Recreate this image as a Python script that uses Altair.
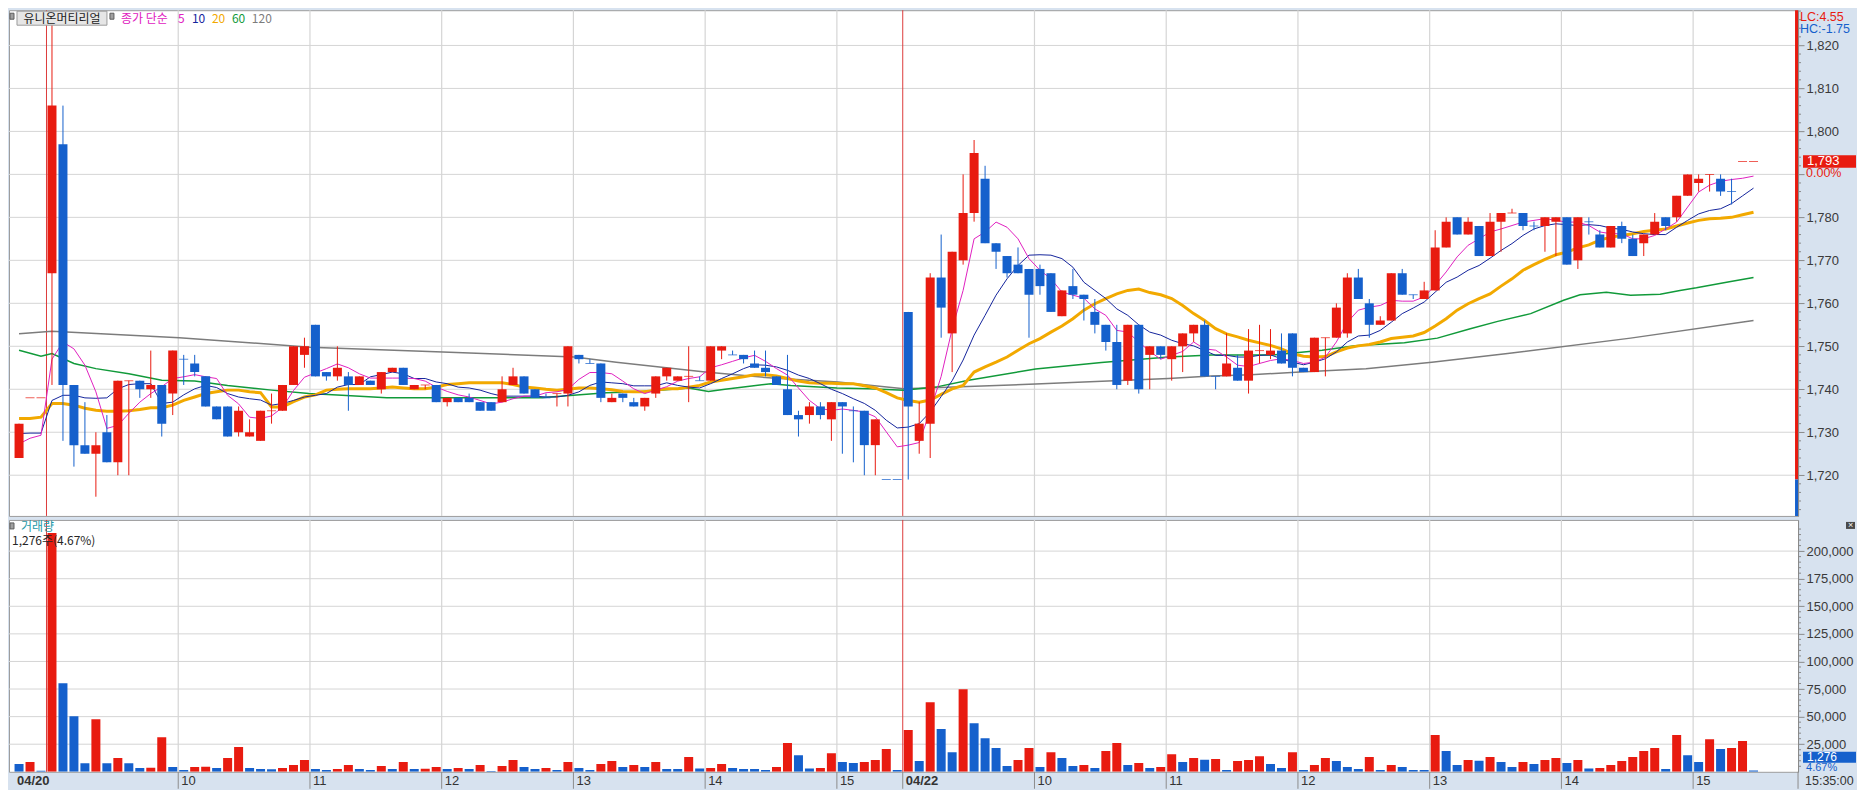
import altair as alt
import pandas as pd

# ---------------- data ----------------
SLOTS = list(range(-3, 156))  # 5-minute slot index (0 = 04/20 09:00, 78 = 04/22 09:00)

OPEN = [1724, 1738, 1738, 1767, 1797, 1741, 1727, 1725, 1730, 1723,
        1742, 1742, 1740, 1741, 1739, 1747, 1746, 1743, 1736, 1736,
        1730, 1729, 1728, 1735, 1735, 1741, 1748, 1755, 1744, 1743,
        1743, 1741, 1742, 1740, 1744, 1745, 1740, 1741, 1741, 1737,
        1738, 1738, 1737, 1737, 1737, 1741, 1743, 1740, 1738, 1739,
        1739, 1748, 1746, 1746, 1737, 1739, 1737, 1736, 1739, 1743,
        1742, 1743, 1742, 1742, 1749, 1748, 1748, 1746, 1745, 1743,
        1740, 1734, 1734, 1736, 1733, 1737, 1735, 1735, 1727, 1719,
        1719, 1758, 1728, 1732, 1766, 1753, 1770, 1781, 1789, 1774,
        1771, 1769, 1768, 1768, 1767, 1757, 1764, 1762, 1758, 1755,
        1751, 1742, 1755, 1748, 1750, 1747, 1750, 1753, 1755, 1743,
        1743, 1745, 1742, 1749, 1748, 1749, 1753, 1745, 1744, 1752,
        1752, 1753, 1766, 1760, 1755, 1756, 1767, 1762, 1761, 1763,
        1773, 1780, 1776, 1778, 1771, 1779, 1781, 1781, 1778, 1778,
        1779, 1780, 1770, 1779, 1776, 1773, 1778, 1775, 1774, 1776,
        1780, 1780, 1785, 1788, 1790, 1789, 1786, 1793, 1793]
HIGH = [1732, 1738, 1738, 1825, 1806, 1741, 1737, 1730, 1734, 1742,
        1742, 1742, 1749, 1741, 1749, 1748, 1748, 1743, 1736, 1736,
        1736, 1733, 1735, 1739, 1741, 1750, 1752, 1755, 1744, 1750,
        1744, 1743, 1742, 1744, 1745, 1745, 1741, 1741, 1741, 1738,
        1738, 1739, 1737, 1737, 1743, 1745, 1743, 1740, 1739, 1739,
        1750, 1748, 1747, 1746, 1739, 1739, 1738, 1738, 1743, 1745,
        1743, 1750, 1743, 1750, 1750, 1749, 1748, 1749, 1749, 1743,
        1748, 1735, 1737, 1737, 1737, 1737, 1736, 1735, 1733, 1719,
        1719, 1758, 1737, 1767, 1776, 1772, 1790, 1798, 1792, 1774,
        1771, 1773, 1768, 1769, 1767, 1763, 1768, 1762, 1761, 1755,
        1755, 1755, 1755, 1750, 1750, 1750, 1753, 1755, 1756, 1743,
        1753, 1748, 1754, 1755, 1754, 1753, 1753, 1745, 1752, 1752,
        1760, 1767, 1768, 1761, 1757, 1767, 1768, 1762, 1765, 1777,
        1780, 1780, 1780, 1778, 1781, 1781, 1782, 1781, 1779, 1780,
        1780, 1780, 1780, 1780, 1777, 1778, 1779, 1776, 1776, 1781,
        1780, 1785, 1790, 1790, 1790, 1790, 1789, 1793, 1793]
LOW = [1724, 1738, 1738, 1741, 1728, 1722, 1725, 1715, 1723, 1720,
       1720, 1738, 1738, 1729, 1734, 1741, 1743, 1736, 1733, 1729,
       1729, 1729, 1728, 1732, 1735, 1741, 1745, 1743, 1742, 1742,
       1735, 1741, 1741, 1739, 1744, 1741, 1740, 1740, 1737, 1736,
       1737, 1737, 1735, 1735, 1737, 1741, 1739, 1738, 1738, 1736,
       1736, 1746, 1746, 1737, 1737, 1737, 1736, 1735, 1738, 1742,
       1742, 1737, 1742, 1742, 1747, 1748, 1746, 1745, 1743, 1741,
       1734, 1729, 1732, 1733, 1728, 1725, 1723, 1720, 1720, 1719,
       1719, 1719, 1725, 1724, 1752, 1744, 1769, 1779, 1774, 1768,
       1766, 1767, 1752, 1762, 1758, 1757, 1761, 1756, 1753, 1749,
       1740, 1741, 1739, 1740, 1747, 1742, 1744, 1751, 1743, 1740,
       1743, 1742, 1739, 1746, 1747, 1746, 1743, 1744, 1744, 1743,
       1752, 1752, 1761, 1752, 1755, 1756, 1762, 1761, 1761, 1763,
       1773, 1776, 1776, 1771, 1771, 1772, 1781, 1777, 1777, 1772,
       1771, 1769, 1768, 1776, 1773, 1773, 1774, 1771, 1771, 1776,
       1777, 1779, 1785, 1786, 1786, 1785, 1783, 1793, 1793]
CLOSE = [1732, 1738, 1738, 1806, 1741, 1727, 1725, 1727, 1723, 1742,
         1742, 1740, 1741, 1732, 1749, 1747, 1744, 1736, 1733, 1729,
         1735, 1730, 1735, 1735, 1741, 1750, 1750, 1743, 1743, 1745,
         1741, 1743, 1741, 1744, 1745, 1741, 1741, 1741, 1737, 1738,
         1737, 1737, 1735, 1735, 1740, 1743, 1739, 1738, 1738, 1739,
         1750, 1747, 1746, 1738, 1738, 1738, 1736, 1738, 1743, 1745,
         1743, 1743, 1742, 1750, 1750, 1748, 1747, 1745, 1744, 1741,
         1734, 1733, 1736, 1734, 1737, 1736, 1735, 1727, 1733, 1719,
         1719, 1736, 1732, 1766, 1759, 1772, 1781, 1795, 1774, 1772,
         1767, 1767, 1762, 1764, 1758, 1763, 1762, 1761, 1755, 1751,
         1741, 1755, 1740, 1750, 1748, 1750, 1753, 1755, 1743, 1743,
         1746, 1742, 1749, 1749, 1749, 1746, 1745, 1744, 1752, 1752,
         1759, 1766, 1761, 1755, 1756, 1767, 1762, 1762, 1763, 1773,
         1779, 1776, 1779, 1771, 1779, 1781, 1781, 1778, 1778, 1780,
         1780, 1769, 1780, 1779, 1773, 1778, 1775, 1771, 1776, 1779,
         1778, 1785, 1790, 1789, 1790, 1786, 1786, 1793, 1793]
CANDLE_DIR = ("U U U U D D D U D U "
              "U D U D U D D D D D "
              "U U U U U U U D D U "
              "D U D U U D U U D U "
              "D D D D U U D D D U "
              "U D D D U D D U U U "
              "U U D U U D D D D D "
              "D D U D U D D D U D "
              "D D U U D U U U D D "
              "D D D D D U D D D D "
              "D U D U D U U U D D "
              "U D U U U D D D U U "
              "U U D D U U D D U U "
              "U D U D U U U D D U "
              "U D U D D U D D U U "
              "D U U U U D D U U").split()

VOLUME = [6980, 8790, 900, 216500, 80300, 50400, 7860, 47700, 7860, 12400,
          7860, 3350, 3700, 31400, 4260, 1540, 4260, 4500, 3350, 12400,
          22400, 3350, 2450, 2200, 3350, 6070, 10600, 2450, 1540, 2450,
          6070, 2450, 1540, 5160, 2450, 8790, 2450, 2700, 4260, 2450,
          3350, 2450, 6070, 630, 5160, 10600, 4260, 2450, 3350, 1540,
          8790, 3350, 1540, 6980, 9690, 4260, 6070, 4260, 8790, 2450,
          2450, 13300, 3000, 3350, 6980, 3350, 2450, 2450, 1540, 4260,
          26000, 15100, 3000, 3350, 16900, 8790, 7880, 8790, 10600, 20600,
          1540, 37800, 9690, 63100, 38700, 17800, 74900, 44100, 30500, 21500,
          5160, 10600, 21500, 4260, 17800, 12400, 5160, 6070, 3350, 18800,
          26000, 6070, 7880, 3350, 4260, 16000, 8790, 12400, 11000, 11500,
          1540, 9690, 10600, 14200, 6980, 3350, 17800, 1540, 6070, 12400,
          9690, 4260, 2450, 13300, 1540, 6070, 4260, 1540, 1540, 33300,
          18800, 6070, 10600, 10000, 13300, 8790, 4260, 8790, 6980, 10600,
          12400, 7880, 10600, 3000, 3350, 6070, 9690, 13300, 18800, 21500,
          2450, 33300, 15100, 8790, 29600, 20600, 21500, 27800, 1276]
VOLUME_DIR = ("D U D U D D D U D U "
              "D D U U D D U U D U "
              "U D D D U U U D D U "
              "U D D U D U D U U D "
              "U D U D U U D D U D "
              "U D D U U D U D U D "
              "D U D U U D D D D U "
              "U D D U U D D U U U "
              "D U D U D D U D D D "
              "D U U D U D D U D U "
              "U D U D U U D U D U "
              "D U U U D D U D U U "
              "D D D U D U D D D U "
              "D D U D U D D U D U "
              "U D U D U U U U U U "
              "D U D D U D U U D").split()

MA5 = [1727.3, 1728.6, 1729.3, 1747.0, 1751.0, 1749.4, 1745.6, 1739.4, 1730.9, 1731.6,
       1734.4, 1737.0, 1739.0, 1740.6, 1742.5, 1742.9, 1743.4, 1742.9, 1742.5, 1738.6,
       1736.6, 1733.5, 1733.2, 1733.8, 1735.8, 1739.7, 1742.8, 1743.8, 1744.8, 1745.9,
       1745.0, 1743.6, 1742.6, 1742.6, 1742.6, 1742.6, 1742.5, 1741.9, 1740.5, 1739.5,
       1738.7, 1738.2, 1737.4, 1736.6, 1737.0, 1737.8, 1738.4, 1738.4, 1739.2, 1739.4,
       1740.0, 1742.3, 1743.9, 1743.9, 1743.6, 1741.9, 1740.1, 1739.0, 1739.8, 1740.6,
       1741.9, 1742.5, 1742.9, 1745.0, 1745.7, 1746.5, 1747.3, 1747.9, 1746.5, 1744.8,
       1743.3, 1740.3, 1737.4, 1735.5, 1735.1, 1735.4, 1735.1, 1734.7, 1733.6, 1730.1,
       1726.6, 1727.0, 1727.6, 1735.0, 1743.0, 1754.0, 1763.0, 1775.0, 1776.6, 1778.9,
       1777.7, 1775.0, 1770.4, 1767.7, 1765.7, 1762.6, 1761.9, 1761.2, 1758.7, 1757.2,
       1753.7, 1753.3, 1751.0, 1748.8, 1747.0, 1747.9, 1748.8, 1751.0, 1749.4, 1749.1,
       1747.5, 1745.6, 1745.3, 1746.0, 1746.7, 1747.1, 1746.7, 1746.0, 1746.3, 1747.5,
       1751.0, 1755.6, 1758.4, 1759.1, 1759.5, 1760.7, 1760.5, 1760.5, 1761.5, 1764.2,
       1767.3, 1770.8, 1773.5, 1775.0, 1776.6, 1777.3, 1778.1, 1778.9, 1779.3, 1779.7,
       1779.3, 1778.9, 1778.9, 1778.1, 1776.6, 1776.2, 1776.2, 1775.0, 1775.0, 1775.8,
       1777.3, 1778.9, 1782.4, 1785.9, 1787.5, 1788.4, 1788.8, 1789.1, 1789.6]
MA10 = [1729.7, 1729.8, 1729.8, 1737.4, 1738.6, 1738.6, 1738.0, 1737.9, 1738.0, 1740.1,
        1741.1, 1741.3, 1741.3, 1736.7, 1737.0, 1738.7, 1740.1, 1740.9, 1740.4, 1739.0,
        1738.2, 1737.8, 1737.5, 1736.3, 1736.7, 1737.4, 1738.2, 1738.6, 1739.0, 1740.5,
        1741.1, 1741.1, 1742.9, 1743.4, 1744.0, 1743.6, 1742.5, 1742.5, 1741.7, 1741.3,
        1740.5, 1740.3, 1739.8, 1739.0, 1738.4, 1738.4, 1738.4, 1738.4, 1738.2, 1738.2,
        1738.6, 1739.4, 1740.9, 1741.7, 1741.5, 1741.3, 1740.8, 1740.8, 1740.8, 1741.5,
        1740.9, 1740.5, 1740.3, 1741.3, 1742.5, 1743.6, 1744.8, 1745.7, 1745.6, 1745.2,
        1744.4, 1743.3, 1742.5, 1741.3, 1740.0, 1739.0, 1737.8, 1736.7, 1735.1, 1732.8,
        1731.0, 1731.2, 1732.0, 1734.7, 1738.3, 1742.0, 1746.8, 1752.6, 1757.2, 1761.9,
        1765.7, 1768.8, 1771.2, 1771.3, 1771.2, 1770.4, 1768.4, 1764.9, 1763.0, 1761.1,
        1758.7, 1757.2, 1755.0, 1753.3, 1752.6, 1751.4, 1750.6, 1750.1, 1749.0, 1747.9,
        1747.9, 1747.5, 1747.5, 1747.9, 1748.0, 1747.1, 1746.3, 1745.7, 1746.3, 1747.1,
        1748.7, 1751.0, 1752.4, 1752.6, 1753.7, 1755.6, 1757.6, 1758.9, 1760.3, 1762.6,
        1764.9, 1766.1, 1767.7, 1768.8, 1770.5, 1772.3, 1773.9, 1775.8, 1777.3, 1778.1,
        1778.5, 1778.3, 1778.1, 1778.3, 1778.1, 1777.5, 1777.2, 1776.6, 1776.2, 1776.0,
        1776.0, 1777.7, 1779.3, 1780.8, 1781.6, 1782.0, 1783.2, 1785.0, 1786.8]
MA20 = [1733.2, 1733.2, 1733.5, 1736.7, 1736.7, 1736.3, 1735.6, 1735.1, 1734.9, 1734.9,
        1735.0, 1735.3, 1735.7, 1735.7, 1736.3, 1737.4, 1738.2, 1739.0, 1739.4, 1739.8,
        1739.8, 1739.4, 1739.2, 1735.9, 1735.9, 1737.1, 1738.2, 1738.7, 1739.8, 1740.0,
        1740.1, 1740.1, 1740.1, 1740.3, 1740.5, 1740.3, 1740.1, 1740.1, 1740.5, 1741.1,
        1741.3, 1741.5, 1741.5, 1741.5, 1741.5, 1741.1, 1740.5, 1740.3, 1740.0, 1739.8,
        1740.0, 1740.3, 1740.3, 1740.1, 1739.9, 1739.5, 1739.4, 1739.4, 1739.8, 1740.1,
        1740.1, 1740.5, 1740.9, 1741.7, 1742.1, 1742.5, 1742.9, 1743.4, 1743.4, 1743.1,
        1742.5, 1741.9, 1741.5, 1741.4, 1741.4, 1741.3, 1741.3, 1740.8, 1740.3, 1739.2,
        1738.0, 1737.4, 1737.0, 1737.5, 1738.8, 1740.1, 1740.9, 1744.0, 1745.2, 1746.3,
        1747.5, 1749.1, 1750.6, 1751.8, 1753.3, 1754.7, 1756.4, 1758.4, 1759.9, 1761.1,
        1762.2, 1763.0, 1763.3, 1762.5, 1762.0, 1761.1, 1759.5, 1757.6, 1756.0, 1754.1,
        1752.9, 1752.2, 1751.4, 1750.8, 1750.2, 1749.4, 1748.3, 1747.7, 1747.5, 1747.6,
        1748.7, 1749.6, 1750.1, 1750.4, 1751.0, 1751.8, 1752.1, 1752.4, 1753.2, 1754.7,
        1756.4, 1758.4, 1759.9, 1761.1, 1762.2, 1764.0, 1765.7, 1767.7, 1769.0, 1770.2,
        1771.3, 1771.9, 1772.9, 1773.6, 1774.7, 1775.4, 1775.8, 1776.2, 1776.7, 1777.0,
        1777.3, 1778.0, 1778.7, 1779.3, 1779.7, 1779.8, 1780.0, 1780.6, 1781.2]
MA60_SLOT = [-3, -1, 0, 2, 4, 7, 10, 13, 16, 20, 23.4, 26.4, 30.5, 35.5, 41.5, 44.5, 47.5,
             50.5, 53.5, 56.5, 58, 59.8, 61.3, 63, 65.5, 67.3, 71.5, 74.5, 77.6, 80.5, 83.5,
             89.6, 95.6, 101.7, 105.6, 111.2, 115.7, 118.7, 123.2, 126.2, 129.2, 131.7,
             134.7, 137.7, 139.2, 141.6, 143.8, 146.5, 148.3, 149.8, 152.8, 155]
MA60 = [1749.1, 1747.7, 1748.3, 1746.0, 1744.8, 1743.6, 1742.1, 1741.9, 1740.9, 1739.8,
        1739.0, 1738.6, 1738.0, 1738.0, 1738.0, 1738.0, 1738.6, 1739.2, 1739.4, 1740.0,
        1740.3, 1739.5, 1740.0, 1740.5, 1741.3, 1740.9, 1740.3, 1740.1, 1739.8, 1740.5,
        1742.1, 1744.7, 1746.2, 1747.5, 1748.0, 1748.0, 1749.1, 1750.1, 1750.8, 1751.9,
        1754.1, 1755.8, 1757.6, 1760.7, 1762.0, 1762.6, 1761.9, 1762.1, 1763.0, 1763.6,
        1765.0, 1766.0]
MA120_SLOT = [-3, 0, 11.6, 23.5, 35.6, 47.6, 51.4, 59.5, 65.6, 71.6, 77.6, 89.6, 101.7,
              105.6, 109.2, 113.7, 119.7, 125.7, 132.6, 143.8, 155]
MA120 = [1752.9, 1753.5, 1752.0, 1749.8, 1748.7, 1747.5, 1746.3, 1744.0, 1742.6, 1741.7,
         1740.1, 1741.2, 1742.5, 1743.1, 1743.4, 1744.0, 1744.8, 1746.3, 1748.3, 1751.9,
         1756.0]

PRICE_TICKS = [1720, 1730, 1740, 1750, 1760, 1770, 1780, 1790, 1800, 1810, 1820]
HIDDEN_PRICE_LABEL = 1790  # covered by the change-rate text in the reference
VOLUME_TICKS = [25000, 50000, 75000, 100000, 125000, 150000, 175000, 200000]
HOUR_SLOTS = [11.5, 23.5, 35.5, 47.5, 59.5, 71.5, 89.5, 101.5, 113.5, 125.5, 137.5, 149.5]
HOUR_LABELS = ["10", "11", "12", "13", "14", "15", "10", "11", "12", "13", "14", "15"]
DAY_SLOTS = [-0.5, 77.5]
DAY_LABEL_SLOTS = [-3.46, 77.5]
DAY_LABELS = ["04/20", "04/22"]
STOCK_NAME = "유니온머티리얼"
MA_TITLE = "종가 단순"
MA_NAMES = ["5", "10", "20", "60", "120"]
CUR_PRICE = 1793
CUR_PRICE_TEXT = "1,793"
CUR_CHANGE_TEXT = "0.00%"
LC_TEXT = "LC:4.55"
HC_TEXT = "HC:-1.75"
LC_SPLIT = 1719
VOL_TITLE = "거래량"
VOL_INFO = "1,276주(4.67%)"
CUR_VOL_TEXT = "1,276"
CUR_VOL_PCT = "4.67%"
TIME_TEXT = "15:35:00"

# ---------------- style ----------------
RED = "#e81b10"
BLUE = "#1560cc"
C_MA5, C_MA10, C_MA20, C_MA60, C_MA120 = "#e020c0", "#14249c", "#f2a900", "#119a3a", "#7c7c7c"
GRID = "#d5d5d5"
BG = "#d7e2ef"
NUM_FONT = "Liberation Sans"
KR_FONT = "Noto Sans CJK KR"

W, PH, VH = 1790, 506, 252
XS = alt.Scale(domain=[-3.46, 158.6], nice=False, zero=False)
PS = alt.Scale(domain=[1710.526, 1828.2], nice=False, zero=False)
VS = alt.Scale(domain=[0, 228260], nice=False, zero=False)
COL = alt.Color("dir:N", scale=alt.Scale(domain=["U", "D"], range=[RED, BLUE]), legend=None)

AXIS_STYLE = dict(orient="right", format=",d", grid=False, domain=True, domainColor="#8a8a8a",
                  ticks=True, tickColor="#8a8a8a", tickSize=6, labelFont=NUM_FONT,
                  labelFontSize=13, labelColor="#3a3a3a", labelPadding=2, title=None,
                  zindex=1, labelOverlap=False)
PAXIS = alt.Axis(values=PRICE_TICKS,
                 labelExpr=f"datum.value == {HIDDEN_PRICE_LABEL} ? '' : format(datum.value, ',d')",
                 **AXIS_STYLE)
VAXIS = alt.Axis(values=VOLUME_TICKS, **AXIS_STYLE)

ONE = pd.DataFrame({"a": [0]})


def X(field="slot"):
    return alt.X(f"{field}:Q", scale=XS, axis=None)


def PY(field):
    return alt.Y(f"{field}:Q", scale=PS, axis=PAXIS)


def VY(field):
    return alt.Y(f"{field}:Q", scale=VS, axis=VAXIS)


def txt(x, y, s, color, size=12, align="left", weight="normal", font=NUM_FONT):
    return alt.Chart(ONE).mark_text(text=s, align=align, baseline="middle", fontSize=size,
                                    font=font, color=color, fontWeight=weight).encode(
        x=alt.value(x), y=alt.value(y))


def box(x1, x2, y1, y2, fill, stroke=""):
    kw = dict(fill=fill)
    if stroke:
        kw.update(stroke=stroke, strokeWidth=1)
    return alt.Chart(ONE).mark_rect(**kw).encode(
        x=alt.value(x1), x2=alt.value(x2), y=alt.value(y1), y2=alt.value(y2))


# ---------------- price panel ----------------
cdf = pd.DataFrame({"slot": SLOTS, "open": OPEN, "high": HIGH, "low": LOW,
                    "close": CLOSE, "dir": CANDLE_DIR})
cdf["bot"] = cdf[["open", "close"]].min(axis=1)
cdf["top"] = cdf[["open", "close"]].max(axis=1)
body = cdf[cdf["open"] != cdf["close"]]
cross = cdf[cdf["open"] == cdf["close"]]
wick = cdf[cdf["high"] > cdf["low"]]

hgrid = alt.Chart(pd.DataFrame({"p": PRICE_TICKS})).mark_rule(color=GRID, strokeWidth=1).encode(y=PY("p"))
vgrid = alt.Chart(pd.DataFrame({"s": HOUR_SLOTS})).mark_rule(color=GRID, strokeWidth=1.2).encode(x=X("s"))
dsep = alt.Chart(pd.DataFrame({"s": DAY_SLOTS})).mark_rule(color="#dd3b3b", strokeWidth=1).encode(x=X("s"))


def ma_layer(slots, vals, color, width):
    return alt.Chart(pd.DataFrame({"slot": slots, "v": vals})).mark_line(
        color=color, strokeWidth=width, clip=True).encode(x=X(), y=PY("v"))


ma120 = ma_layer(MA120_SLOT, MA120, C_MA120, 1.5)
ma60 = ma_layer(MA60_SLOT, MA60, C_MA60, 1.5)
ma20 = ma_layer(SLOTS, MA20, C_MA20, 3)
ma10 = ma_layer(SLOTS, MA10, C_MA10, 1)
ma5 = ma_layer(SLOTS, MA5, C_MA5, 1)

wicks = alt.Chart(wick).mark_rule(strokeWidth=1, clip=True).encode(
    x=X(), y=PY("low"), y2=alt.Y2("high"), color=COL)
bodies = alt.Chart(body).mark_bar(size=9, clip=True).encode(
    x=X(), y=PY("bot"), y2=alt.Y2("top"), color=COL)
crosses = alt.Chart(cross).mark_tick(orient="horizontal", size=9, thickness=1, clip=True).encode(
    x=X(), y=PY("close"), color=COL)

lcbar = alt.Chart(pd.DataFrame({"y1": [1830, LC_SPLIT], "y2": [LC_SPLIT, 1700], "dir": ["U", "D"]})).mark_rect(
    clip=True).encode(x=alt.value(W - 3), x2=alt.value(W), y=PY("y1"), y2=alt.Y2("y2"), color=COL)

minor_p = [p for p in range(1712, 1829, 2) if p % 10 != 0]
pminor = alt.Chart(pd.DataFrame({"p": minor_p})).mark_rule(color="#8a8a8a").encode(
    y=PY("p"), x=alt.value(W), x2=alt.value(W + 3))

cp = pd.DataFrame({"p": [CUR_PRICE], "lo": [CUR_PRICE - 1.45], "hi": [CUR_PRICE + 1.45],
                   "t": [CUR_PRICE_TEXT], "c": [CUR_CHANGE_TEXT]})
cpbox = alt.Chart(cp).mark_rect(color=RED).encode(x=alt.value(W + 5), x2=alt.value(W + 58),
                                                  y=PY("lo"), y2=alt.Y2("hi"))
cptxt = alt.Chart(cp).mark_text(align="left", baseline="middle", color="white", fontSize=13,
                                font=NUM_FONT).encode(x=alt.value(W + 9), y=PY("p"), text="t:N")
cpchg = alt.Chart(cp).mark_text(align="left", baseline="middle", color=RED, fontSize=12.5,
                                font=NUM_FONT, dy=12).encode(x=alt.value(W + 8), y=PY("p"), text="c:N")

header = [
    box(1, 5, 3, 9, "#a0a0a0", "#5c5c5c"),
    box(8, 98, 1, 15, "#e6e6e6", "#9c9c9c"),
    txt(53, 8.5, STOCK_NAME, "#1c1c1c", 12, align="center", font=KR_FONT),
    box(101, 105, 3, 9, "#a0a0a0", "#5c5c5c"),
    txt(112, 8.5, MA_TITLE, C_MA5, 12, font=KR_FONT),
    txt(169, 8.5, MA_NAMES[0], C_MA5, 12, font=KR_FONT),
    txt(183, 8.5, MA_NAMES[1], C_MA10, 12, font=KR_FONT),
    txt(203, 8.5, MA_NAMES[2], C_MA20, 12, font=KR_FONT),
    txt(223, 8.5, MA_NAMES[3], C_MA60, 12, font=KR_FONT),
    txt(243, 8.5, MA_NAMES[4], C_MA120, 12, font=KR_FONT),
    txt(W + 2, 7, LC_TEXT, RED, 12.5),
    txt(W + 2, 19, HC_TEXT, BLUE, 12.5),
]

price = alt.layer(hgrid, vgrid, dsep, ma120, ma60, ma20, ma10, ma5,
                  wicks, bodies, crosses, lcbar, pminor, cpbox, cptxt, cpchg,
                  *header).properties(width=W, height=PH)

# ---------------- volume panel ----------------
vdf = pd.DataFrame({"slot": SLOTS, "vol": VOLUME, "dir": VOLUME_DIR})
vh = alt.Chart(pd.DataFrame({"v": VOLUME_TICKS})).mark_rule(color=GRID, strokeWidth=1).encode(y=VY("v"))
vv = alt.Chart(pd.DataFrame({"s": HOUR_SLOTS})).mark_rule(color=GRID, strokeWidth=1.2).encode(x=X("s"))
vsep = alt.Chart(pd.DataFrame({"s": DAY_SLOTS})).mark_rule(color="#dd3b3b", strokeWidth=1).encode(x=X("s"))
vbars = alt.Chart(vdf).mark_bar(size=9, orient="vertical", clip=True).encode(
    x=X(), y=VY("vol"), y2=alt.datum(0), color=COL)
minor_v = [v for v in range(5000, 228000, 5000) if v % 25000 != 0]
vminor = alt.Chart(pd.DataFrame({"v": minor_v})).mark_rule(color="#8a8a8a").encode(
    y=VY("v"), x=alt.value(W), x2=alt.value(W + 3))

# time axis band (drawn below the volume panel)
BAND_Y = VH + 9
bticks = alt.Chart(pd.DataFrame({"s": HOUR_SLOTS + [DAY_SLOTS[1]]})).mark_rule(color="#8c8c8c").encode(
    x=X("s"), y=alt.value(VH), y2=alt.value(VH + 17))
bedge = alt.Chart(ONE).mark_rule(color="#8c8c8c").encode(
    x=alt.value(W), y=alt.value(VH), y2=alt.value(VH + 17))
hlabels = alt.Chart(pd.DataFrame({"s": HOUR_SLOTS, "t": HOUR_LABELS})).mark_text(
    align="left", baseline="middle", dx=3, fontSize=13, font=NUM_FONT, color="#333333").encode(
    x=X("s"), y=alt.value(BAND_Y), text="t:N")
dlabels = alt.Chart(pd.DataFrame({"s": DAY_LABEL_SLOTS, "t": DAY_LABELS})).mark_text(
    align="left", baseline="middle", dx=3, fontSize=13, font=NUM_FONT, fontWeight="bold",
    color="#333333").encode(x=X("s"), y=alt.value(BAND_Y), text="t:N")

vextra = [
    box(1, 5, 3, 9, "#a0a0a0", "#5c5c5c"),
    txt(12, 7, VOL_TITLE, "#1f9aa8", 12, font=KR_FONT),
    txt(3, 21, VOL_INFO, "#262626", 12, font=KR_FONT),
    box(W + 48, W + 57, 2, 9, "#4a4a4a"),
    txt(W + 52.5, 5.5, "×", "white", 9, align="center"),
    box(W + 5, W + 58, VH - 20, VH - 9, BLUE),
    txt(W + 9, VH - 14.5, CUR_VOL_TEXT, "white", 12),
    txt(W + 8, VH - 3.5, CUR_VOL_PCT, BLUE, 11),
    txt(W + 7, BAND_Y, TIME_TEXT, "#333333", 12.5),
]

volume = alt.layer(vh, vv, vsep, vbars, vminor, bticks, bedge, hlabels, dlabels,
                   *vextra).properties(width=W, height=VH)

chart = alt.vconcat(price, volume, spacing=0).properties(
    background=BG, padding=0).configure_view(fill="white", stroke="#9c9c9c", strokeWidth=1)

chart.save("out.html", embed_options={"renderer": "svg", "actions": False})
